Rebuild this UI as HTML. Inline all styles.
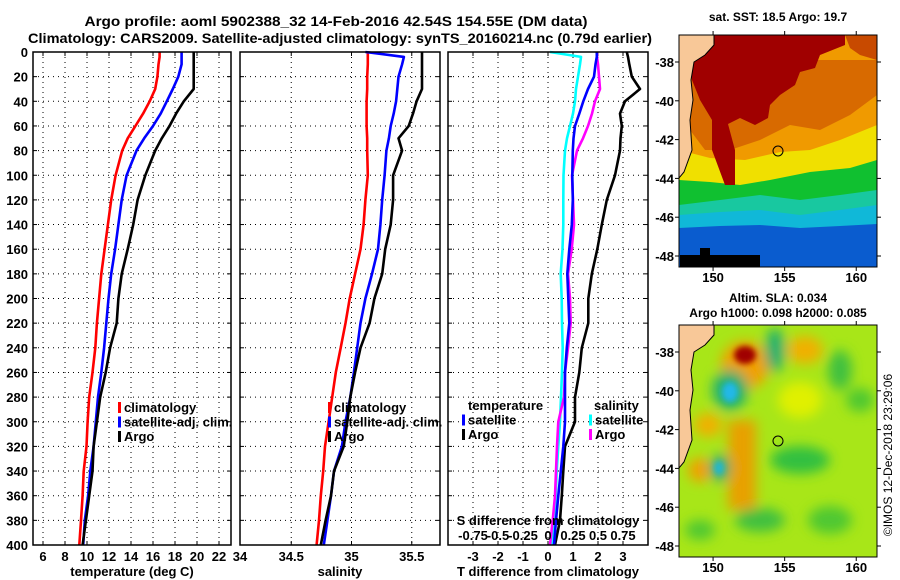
<!DOCTYPE html>
<html><head><meta charset="utf-8">
<style>
html,body{margin:0;padding:0;background:#fff;}
svg{display:block;font-family:"Liberation Sans",Arial,sans-serif;font-weight:bold;}
</style></head>
<body>
<svg id="fig" width="900" height="580" viewBox="0 0 900 580" xmlns="http://www.w3.org/2000/svg">
<defs>
<filter id="blur" x="-20%" y="-20%" width="140%" height="140%"><feGaussianBlur stdDeviation="6"/></filter>
<filter id="blur2" x="-20%" y="-20%" width="140%" height="140%"><feGaussianBlur stdDeviation="3"/></filter>
<clipPath id="m1clip"><rect x="679" y="35" width="198" height="232"/></clipPath>
<clipPath id="m2clip"><rect x="679" y="325" width="198" height="232"/></clipPath>
</defs>
<text x="336" y="26" font-size="14" text-anchor="middle" textLength="503" lengthAdjust="spacingAndGlyphs">Argo profile: aoml 5902388_32 14-Feb-2016 42.54S 154.55E (DM data)</text>
<text x="340" y="43" font-size="14" text-anchor="middle" textLength="624" lengthAdjust="spacingAndGlyphs">Climatology: CARS2009. Satellite-adjusted climatology: synTS_20160214.nc (0.79d earlier)</text>

<!-- SST map -->
<g clip-path="url(#m1clip)">
<rect x="679" y="35" width="198" height="232" fill="#f09a00"/>
<polygon fill="#f0e000" points="679,150 710,158 745,160 780,152 810,150 840,140 877,125 877,267 679,267"/>
<polygon fill="#10c030" points="679,180 710,182 740,185 770,180 810,172 850,168 877,160 877,267 679,267"/>
<polygon fill="#18c8a0" points="679,205 720,200 760,195 800,200 840,195 877,190 877,267 679,267"/>
<polygon fill="#10b8d8" points="679,215 720,212 760,210 800,215 840,210 877,205 877,267 679,267"/>
<polygon fill="#0a5ccf" points="679,228 720,226 760,225 800,228 840,226 877,224 877,267 679,267"/>
<polygon fill="#d86a00" points="690,60 760,60 840,60 877,60 877,95 850,115 820,130 790,125 760,140 730,150 705,150 690,130"/>
<polygon fill="#a00000" points="714,35 845,35 845,45 820,55 815,68 800,72 795,85 780,95 770,105 768,118 755,125 740,118 728,124 735,150 735,185 725,185 712,150 712,120 700,100 692,80 690,60 692,40"/>
<polygon fill="#c84a00" points="845,35 877,35 877,60 860,55 850,48"/>
<rect x="680" y="255" width="80" height="12" fill="#000"/>
<rect x="700" y="248" width="10" height="7" fill="#000"/>
<polygon fill="#f8c898" stroke="#000" stroke-width="1" points="679,35 714,35 714,45 705,55 694,62 691,80 693,100 690,120 692,150 684,172 679,178"/>
<circle cx="778" cy="151" r="5" fill="none" stroke="#000" stroke-width="1"/>
</g>
<rect x="679" y="35" width="198" height="232" fill="none" stroke="#000" stroke-width="1"/>
<text x="778" y="21" font-size="12" text-anchor="middle">sat. SST: 18.5 Argo: 19.7</text>

<!-- SLA map -->
<g clip-path="url(#m2clip)">
<rect x="679" y="325" width="198" height="232" fill="#a8e618"/>
<g filter="url(#blur)">
<ellipse cx="745" cy="365" rx="24" ry="24" fill="#f0a000"/>
<rect x="728" y="420" width="28" height="90" fill="#e8a000"/>
<ellipse cx="708" cy="425" rx="14" ry="12" fill="#f0b000"/>
<ellipse cx="700" cy="470" rx="12" ry="12" fill="#f0a000"/>
<ellipse cx="805" cy="350" rx="18" ry="14" fill="#f0b000"/>
<ellipse cx="730" cy="390" rx="18" ry="20" fill="#20b070"/>
<ellipse cx="720" cy="468" rx="10" ry="14" fill="#20b070"/>
<ellipse cx="775" cy="350" rx="10" ry="22" fill="#20b070"/>
<ellipse cx="800" cy="460" rx="30" ry="14" fill="#30c040"/>
<ellipse cx="840" cy="370" rx="12" ry="20" fill="#40c040"/>
<ellipse cx="860" cy="400" rx="14" ry="12" fill="#50c830"/>
<ellipse cx="760" cy="520" rx="25" ry="12" fill="#40c040"/>
<ellipse cx="830" cy="520" rx="22" ry="14" fill="#50c830"/>
<ellipse cx="700" cy="530" rx="15" ry="10" fill="#50c830"/>
<ellipse cx="800" cy="400" rx="22" ry="18" fill="#e0f000"/>
</g>
<g filter="url(#blur2)">
<ellipse cx="745" cy="355" rx="11" ry="9" fill="#a00000"/>
<ellipse cx="730" cy="392" rx="8" ry="10" fill="#20b8e8"/>
<ellipse cx="719" cy="468" rx="5" ry="7" fill="#20b8d0"/>
</g>
<polygon fill="#f8c898" stroke="#000" stroke-width="1" points="679,325 714,325 714,335 705,345 694,352 691,370 693,390 690,410 692,440 684,462 679,468"/>
<circle cx="778" cy="441" r="5" fill="none" stroke="#000" stroke-width="1"/>
</g>
<rect x="679" y="325" width="198" height="232" fill="none" stroke="#000" stroke-width="1"/>
<text x="778" y="302" font-size="12" text-anchor="middle">Altim. SLA: 0.034</text>
<text x="778" y="317" font-size="12" text-anchor="middle">Argo h1000: 0.098 h2000: 0.085</text>
<text transform="translate(892,455) rotate(-90)" font-size="12" font-weight="normal" text-anchor="middle">©IMOS 12-Dec-2018 23:29:06</text>

<g id="charts"></g>
</svg>
<script>
// ---------- data ----------
const depths = [0,4,10,20,30,40,50,60,70,80,100,120,140,160,180,200,220,240,260,280,300,320,340,360,380,400];
const tempClim = [16.6,16.6,16.5,16.4,16.2,15.7,15.1,14.4,13.7,13.2,12.6,12.2,11.9,11.6,11.3,11.1,10.9,10.75,10.5,10.2,10.05,9.95,9.7,9.6,9.45,9.3];
const tempSat = [18.6,18.6,18.6,18.3,17.8,17.25,16.7,16.0,15.2,14.5,13.6,13.15,12.85,12.55,12.2,11.95,11.75,11.55,11.3,11.0,10.8,10.6,10.3,10.1,9.8,9.65];
const tempArgo = [19.7,19.7,19.7,19.7,19.7,18.8,18.1,17.5,16.8,16.2,15.3,14.6,14.2,13.7,13.15,12.85,12.7,12.1,11.7,11.2,10.9,10.6,10.5,10.2,9.9,9.6];
const salClim = [35.135,35.135,35.135,35.13,35.13,35.125,35.125,35.125,35.13,35.13,35.135,35.115,35.1,35.075,35.03,34.985,34.95,34.91,34.87,34.84,34.81,34.78,34.765,34.745,34.73,34.71];
const salSat = [35.115,35.435,35.42,35.39,35.38,35.37,35.35,35.325,35.31,35.29,35.275,35.255,35.24,35.22,35.17,35.115,35.075,35.047,35.02,34.99,34.95,34.92,34.855,34.83,34.8,34.77];
const salArgo = [35.585,35.585,35.585,35.585,35.585,35.54,35.51,35.475,35.39,35.42,35.345,35.345,35.325,35.28,35.255,35.19,35.15,35.075,35.03,34.99,34.965,34.935,34.855,34.83,34.785,34.745];
const tDiffSat = [1.95,1.95,1.9,1.84,1.6,1.41,1.25,1.08,1.02,0.99,0.97,0.99,0.95,0.85,0.77,0.81,0.85,0.75,0.68,0.68,0.68,0.61,0.51,0.41,0.32,0.24];
const tDiffArgo = [3.15,3.2,3.25,3.35,3.68,3.08,2.88,2.95,2.9,2.88,2.68,2.35,2.15,1.97,1.75,1.61,1.61,1.35,1.25,1.08,1.08,0.68,0.61,0.55,0.48,0.28];
const sDiffSat = [0.02,0.33,0.32,0.30,0.28,0.27,0.25,0.22,0.19,0.17,0.155,0.153,0.153,0.145,0.127,0.137,0.14,0.147,0.14,0.13,0.12,0.103,0.087,0.077,0.06,0.047];
const sDiffArgo = [0.49,0.49,0.5,0.51,0.52,0.47,0.44,0.40,0.35,0.29,0.24,0.25,0.26,0.237,0.2,0.22,0.227,0.2,0.17,0.16,0.103,0.09,0.08,0.07,0.047,0.02];
const depthTicks = [0,20,40,60,80,100,120,140,160,180,200,220,240,260,280,300,320,340,360,380,400];
const tempTicks = [6,8,10,12,14,16,18,20,22];
const salTicks = [34.5,35,35.5];
const tDiffTicks = [-3,-2,-1,0,1,2,3];
const sDiffTicks = [-0.75,-0.5,-0.25,0,0.25,0.5,0.75];
const sDiffTickLabels = ["-0.75","-0.5","-0.25","0","0.25","0.5","0.75"];
const mapLonTicks = [150,155,160];
const mapLatTicks = [-38,-40,-42,-44,-46,-48];

// ---------- helpers ----------
const NS = "http://www.w3.org/2000/svg";
const root = document.getElementById('charts');
function mk(tag, attrs, parent){
  const e = document.createElementNS(NS, tag);
  for (const k in attrs) e.setAttribute(k, attrs[k]);
  (parent||root).appendChild(e);
  return e;
}
const TOP = 52, BOT = 545;
function yD(d){ return TOP + (BOT-TOP)*d/400; }
function makeX(x0, x1, v0, v1){ return v => x0 + (v - v0)*(x1 - x0)/(v1 - v0); }

const panels = [
  {name:'temperature-panel', x0:33, x1:231, v0:5.09, v1:23.09, ticks:tempTicks, labels:tempTicks.map(String), xlabel:'temperature (deg C)'},
  {name:'salinity-panel', x0:240, x1:440, v0:34.0747, v1:35.7344, ticks:salTicks, labels:salTicks.map(String), xlabel:'salinity'},
  {name:'difference-panel', x0:448, x1:648, v0:-4, v1:4, ticks:tDiffTicks, labels:tDiffTicks.map(String), xlabel:'T difference from climatology'}
];
panels.forEach((p, i) => {
  p.sx = makeX(p.x0, p.x1, p.v0, p.v1);
  const g = mk('g', {});
  
  
  p.g = g;
  depthTicks.forEach(d => {
    if (d === 0 || d === 400) return;
    const l = mk('line', {x1:p.x0, x2:p.x1, y1:yD(d), y2:yD(d), stroke:'#000', 'stroke-width':1, 'stroke-dasharray':'1,4'}, g);
    
    
  });
  p.ticks.forEach(t => {
    const x = p.sx(t);
    const l = mk('line', {x1:x, x2:x, y1:TOP, y2:BOT, stroke:'#000', 'stroke-width':1, 'stroke-dasharray':'1,4'}, g);
    
    
    mk('line', {x1:x, x2:x, y1:BOT, y2:BOT-4, stroke:'#000'}, g);
    mk('line', {x1:x, x2:x, y1:TOP, y2:TOP+4, stroke:'#000'}, g);
  });
  p.ticks.forEach((t, k) => {
    const tx = mk('text', {x:p.sx(t), y:561, 'font-size':13, 'text-anchor':'middle'}, g);
    
    
    tx.textContent = p.labels[k];
  });
  depthTicks.forEach(d => {
    mk('line', {x1:p.x0, x2:p.x0+4, y1:yD(d), y2:yD(d), stroke:'#000'}, g);
    mk('line', {x1:p.x1, x2:p.x1-4, y1:yD(d), y2:yD(d), stroke:'#000'}, g);
  });
  const xl = mk('text', {x:(p.x0+p.x1)/2, y:576, 'font-size':13, 'text-anchor':'middle'}, g);
  
  
  xl.textContent = p.xlabel;
});
{
  const t = mk('text', {x:240, y:561, 'font-size':13, 'text-anchor':'middle'});
  
  
  t.textContent = '34';
}
depthTicks.forEach(d => {
  const t = mk('text', {x:28, y:yD(d)+5, 'font-size':13, 'text-anchor':'end'});
  
  
  t.textContent = String(d);
});

function drawLine(p, sx, vals, color, name){
  const pts = vals.map((v, i) => sx(v).toFixed(1) + ',' + yD(depths[i]).toFixed(1)).join(' ');
  const pl = mk('polyline', {points:pts, fill:'none', stroke:color, 'stroke-width':2.6, 'stroke-linejoin':'round'}, p.g);
  
  
}
drawLine(panels[0], panels[0].sx, tempClim, '#ff0000', 'temperature-climatology-line');
drawLine(panels[0], panels[0].sx, tempSat, '#0000ff', 'temperature-satellite-line');
drawLine(panels[0], panels[0].sx, tempArgo, '#000000', 'temperature-argo-line');
drawLine(panels[1], panels[1].sx, salClim, '#ff0000', 'salinity-climatology-line');
drawLine(panels[1], panels[1].sx, salSat, '#0000ff', 'salinity-satellite-line');
drawLine(panels[1], panels[1].sx, salArgo, '#000000', 'salinity-argo-line');
const sxS = makeX(448, 648, -1, 1);
drawLine(panels[2], panels[2].sx, tDiffArgo, '#000000', 'tdiff-argo-line');
drawLine(panels[2], sxS, sDiffSat, '#00ffff', 'sdiff-satellite-line');
drawLine(panels[2], sxS, sDiffArgo, '#ff00ff', 'sdiff-argo-line');
drawLine(panels[2], panels[2].sx, tDiffSat, '#0000ff', 'tdiff-satellite-line');

{
  const t = mk('text', {x:548, y:525, 'font-size':13, 'text-anchor':'middle'});
  
  
  t.textContent = 'S difference from climatology';
}
sDiffTicks.forEach((s, k) => {
  const t = mk('text', {x:sxS(s), y:540, 'font-size':13, 'text-anchor':'middle'});
  
  
  t.textContent = sDiffTickLabels[k];
});

panels.forEach(p => {
  const r = mk('rect', {x:p.x0, y:TOP, width:p.x1-p.x0, height:BOT-TOP, fill:'none', stroke:'#000', 'stroke-width':1.5});
  
  
});

function legend(x, y, items){
  items.forEach((it, k) => {
    const yy = y + k*14.5;
    const m = mk('rect', {x:x, y:yy-10, width:3, height:11, fill:it[1]});
    
    
    const t = mk('text', {x:x+6, y:yy, 'font-size':13});
    
    
    t.textContent = it[0];
  });
}
legend(118, 412, [['climatology','#ff0000'],['satellite-adj. clim.','#0000ff'],['Argo','#000000']]);
legend(328, 412, [['climatology','#ff0000'],['satellite-adj. clim.','#0000ff'],['Argo','#000000']]);
{
  const t = mk('text', {x:468, y:410, 'font-size':13});
  
  
  t.textContent = 'temperature';
  const s = mk('text', {x:594, y:410, 'font-size':13});
  
  
  s.textContent = 'salinity';
}
legend(462, 424.5, [['satellite','#0000ff'],['Argo','#000000']]);
legend(589, 424.5, [['satellite','#00ffff'],['Argo','#ff00ff']]);

function mapAxes(y0, y1){
  const lonX = makeX(679, 877, 147.62, 161.45);
  mapLonTicks.forEach(l => {
    const x = lonX(l);
    mk('line', {x1:x, x2:x, y1:y1, y2:y1+4, stroke:'#000'});
    mk('line', {x1:x, x2:x, y1:y0, y2:y0-4, stroke:'#000'});
    const t = mk('text', {x:x, y:y1+15, 'font-size':13, 'text-anchor':'middle'});
    
    
    t.textContent = String(l);
  });
  mapLatTicks.forEach(v => {
    const y = (y0 - 35) + 62 + (-38 - v)*19.4;
    mk('line', {x1:675, x2:679, y1:y, y2:y, stroke:'#000'});
    mk('line', {x1:877, x2:881, y1:y, y2:y, stroke:'#000'});
    const t = mk('text', {x:674, y:y+5, 'font-size':13, 'text-anchor':'end'});
    
    
    t.textContent = String(v);
  });
}
mapAxes(35, 267);
mapAxes(325, 557);
</script>
</body></html>
